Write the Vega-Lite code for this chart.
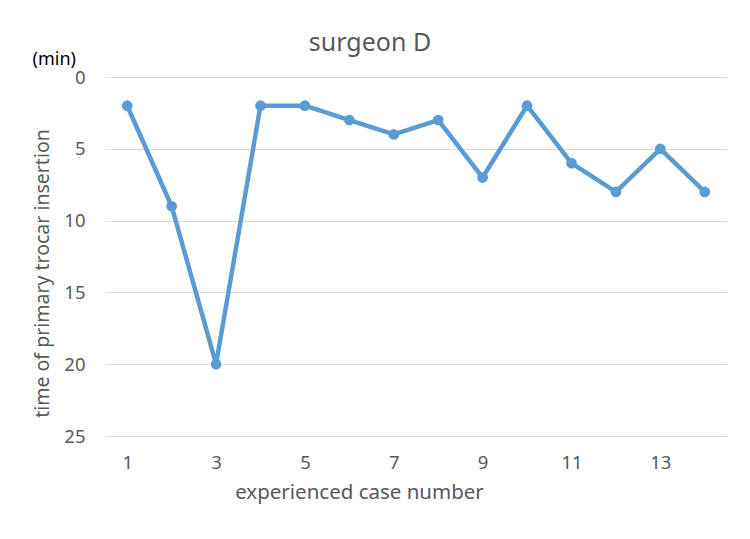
{
  "$schema": "https://vega.github.io/schema/vega-lite/v6.json",
  "width": 622,
  "height": 359,
  "autosize": {"type": "none"},
  "padding": {"left": 105, "top": 77, "right": 23, "bottom": 103},
  "background": "white",
  "config": {
    "font": "Noto Sans",
    "view": {"stroke": null},
    "axis": {"labelColor": "#595959", "titleColor": "#595959", "titleFontWeight": "normal"}
  },
  "title": {
    "text": "surgeon D",
    "anchor": "middle",
    "dx": -46,
    "offset": -5,
    "fontSize": 25,
    "fontWeight": "normal",
    "color": "#595959"
  },
  "data": {
    "values": [
      {"case": 1, "minutes": 2},
      {"case": 2, "minutes": 9},
      {"case": 3, "minutes": 20},
      {"case": 4, "minutes": 2},
      {"case": 5, "minutes": 2},
      {"case": 6, "minutes": 3},
      {"case": 7, "minutes": 4},
      {"case": 8, "minutes": 3},
      {"case": 9, "minutes": 7},
      {"case": 10, "minutes": 2},
      {"case": 11, "minutes": 6},
      {"case": 12, "minutes": 8},
      {"case": 13, "minutes": 5},
      {"case": 14, "minutes": 8}
    ]
  },
  "layer": [
    {
      "mark": {"type": "line", "color": "#5B9BD5", "strokeWidth": 4.5, "strokeJoin": "round"},
      "encoding": {
        "x": {
          "field": "case",
          "type": "quantitative",
          "scale": {"domain": [0.5, 14.5], "nice": false, "zero": false},
          "axis": {
            "values": [1, 3, 5, 7, 9, 11, 13],
            "title": "experienced case number",
            "titleFontSize": 20.5,
            "titleX": 254,
            "titleY": 56,
            "titleAlign": "center",
            "titleBaseline": "middle",
            "labelFontSize": 18.5,
            "labelPadding": 17,
            "ticks": false,
            "domain": false,
            "grid": false
          }
        },
        "y": {
          "field": "minutes",
          "type": "quantitative",
          "scale": {"domain": [0, 25], "reverse": true, "nice": false, "zero": false},
          "axis": {
            "values": [0, 5, 10, 15, 20, 25],
            "title": "time of primary trocar insertion",
            "titleFontSize": 19.5,
            "titleX": -63,
            "titleY": 196,
            "titleAlign": "center",
            "titleBaseline": "middle",
            "titleAngle": -90,
            "labelFontSize": 18.5,
            "labelPadding": 20,
            "ticks": false,
            "domain": false,
            "grid": true,
            "gridColor": "#D9D9D9",
            "gridWidth": 1.2
          }
        }
      }
    },
    {
      "mark": {"type": "point", "filled": true, "color": "#5B9BD5", "size": 115, "opacity": 1},
      "encoding": {
        "x": {"field": "case", "type": "quantitative"},
        "y": {"field": "minutes", "type": "quantitative"}
      }
    },
    {
      "data": {"values": [{"unit": "(min)"}]},
      "mark": {"type": "text", "align": "right", "baseline": "middle", "dx": -29, "fontSize": 18, "color": "#000000"},
      "encoding": {
        "x": {"datum": 0.5, "type": "quantitative"},
        "y": {"datum": -1.18, "type": "quantitative"},
        "text": {"field": "unit"}
      }
    }
  ]
}
